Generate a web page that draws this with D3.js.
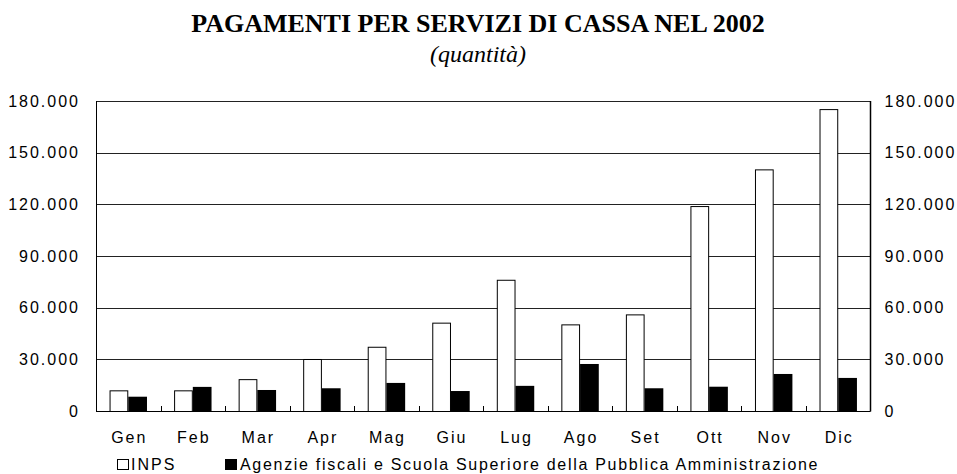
<!DOCTYPE html>
<html><head><meta charset="utf-8">
<script src="https://cdn.jsdelivr.net/npm/d3@7"></script>
<style>body{margin:0;background:#fff}svg{display:block}</style>
</head><body>
<svg id="c" width="957" height="474"></svg>
<script>
const months = ["Gen","Feb","Mar","Apr","Mag","Giu","Lug","Ago","Set","Ott","Nov","Dic"];
const inps = [12000,12000,18500,30200,37300,51300,76200,50300,56100,119000,140300,175300];
const agenzie = [8300,14000,12200,13200,16300,11600,14600,27300,13200,14100,21500,19200];
const yTicks = [0,30000,60000,90000,120000,150000,180000];
const seriesNames = ["INPS","Agenzie fiscali e Scuola Superiore della Pubblica Amministrazione"];

const svg = d3.select("#c");
const L = 96, R = 870.5, T = 101, B = 411;
const x = d3.scaleBand().domain(months).range([L, R]).paddingInner(0.42).paddingOuter(0.21);
const x1 = d3.scaleBand().domain([0,1]).range([0, x.bandwidth()]);
const y = d3.scaleLinear().domain([0,180000]).range([B, T]);
const fmt = v => d3.format(",")(v).replace(/,/g, ".");
const FS = 16, LS = "2px";

// title
svg.append("text").attr("x",478).attr("y",32).attr("text-anchor","middle")
  .attr("font-family","'Liberation Serif','Times New Roman',serif").attr("font-weight","bold").attr("font-size",26)
  .text("PAGAMENTI PER SERVIZI DI CASSA NEL 2002");
svg.append("text").attr("x",478).attr("y",62).attr("text-anchor","middle")
  .attr("font-family","'Liberation Serif','Times New Roman',serif").attr("font-style","italic").attr("font-size",24)
  .text("(quantità)");

// gridlines
svg.append("g").selectAll("line").data(yTicks.filter(d=>d>0)).join("line")
  .attr("x1",L).attr("x2",R).attr("y1",d=>Math.round(y(d))+0.5).attr("y2",d=>Math.round(y(d))+0.5)
  .attr("stroke","#222").attr("stroke-width",1);

const fontSans = "'Liberation Sans',Arial,sans-serif";
// left axis
const la = svg.append("g").attr("transform",`translate(${L},0)`)
  .call(d3.axisLeft(y).tickValues(yTicks).tickFormat(fmt).tickSize(0).tickPadding(16));
la.select(".domain").remove();
la.selectAll("text").attr("font-family",fontSans).attr("font-size",FS).attr("letter-spacing",LS).attr("fill","#000");
// right axis
const ra = svg.append("g").attr("transform",`translate(${R},0)`)
  .call(d3.axisRight(y).tickValues(yTicks).tickFormat(fmt).tickSize(0).tickPadding(14));
ra.select(".domain").remove();
ra.selectAll("text").attr("font-family",fontSans).attr("font-size",FS).attr("letter-spacing",LS).attr("fill","#000");

// bars
const g = svg.append("g");
g.selectAll("rect.i").data(months).join("rect").attr("class","i")
  .attr("x",(d)=>x(d)+x1(0)+0.5).attr("width",x1.bandwidth()-1)
  .attr("y",(d,i)=>y(inps[i])+0.5).attr("height",(d,i)=>B-y(inps[i]))
  .attr("fill","#fff").attr("stroke","#000").attr("stroke-width",1);
g.selectAll("rect.a").data(months).join("rect").attr("class","a")
  .attr("x",(d)=>x(d)+x1(1)).attr("width",x1.bandwidth())
  .attr("y",(d,i)=>y(agenzie[i])).attr("height",(d,i)=>B-y(agenzie[i]))
  .attr("fill","#000");

// axes lines
svg.append("line").attr("x1",L+0.5).attr("x2",L+0.5).attr("y1",T).attr("y2",B+0.5).attr("stroke","#000");
svg.append("line").attr("x1",R).attr("x2",R).attr("y1",T).attr("y2",B+0.5).attr("stroke","#000").attr("stroke-width",1.5);
svg.append("line").attr("x1",L).attr("x2",R).attr("y1",B+0.5).attr("y2",B+0.5).attr("stroke","#000");
// category boundary ticks
const step = x.step();
svg.append("g").selectAll("line").data(months.slice(1)).join("line")
  .attr("x1",d=>Math.round(x(d)-x.paddingOuter()*step)+0.5).attr("x2",d=>Math.round(x(d)-x.paddingOuter()*step)+0.5)
  .attr("y1",B-5).attr("y2",B).attr("stroke","#000");

// month labels
svg.append("g").selectAll("text").data(months).join("text")
  .attr("x",d=>x(d)+x.bandwidth()/2+1).attr("y",443).attr("text-anchor","middle")
  .attr("font-family",fontSans).attr("font-size",FS).attr("letter-spacing",LS)
  .text(d=>d);

// legend
const lg = svg.append("g");
lg.append("rect").attr("x",117.5).attr("y",459.5).attr("width",11).attr("height",10).attr("fill","#fff").attr("stroke","#000");
lg.append("text").attr("x",131).attr("y",470).attr("font-family",fontSans).attr("font-size",FS).attr("letter-spacing",LS).text(seriesNames[0]);
lg.append("rect").attr("x",225).attr("y",459).attr("width",12).attr("height",11).attr("fill","#000");
lg.append("text").attr("x",240).attr("y",470).attr("font-family",fontSans).attr("font-size",FS).attr("letter-spacing","1.7px").text(seriesNames[1]);
</script>
</body></html>
